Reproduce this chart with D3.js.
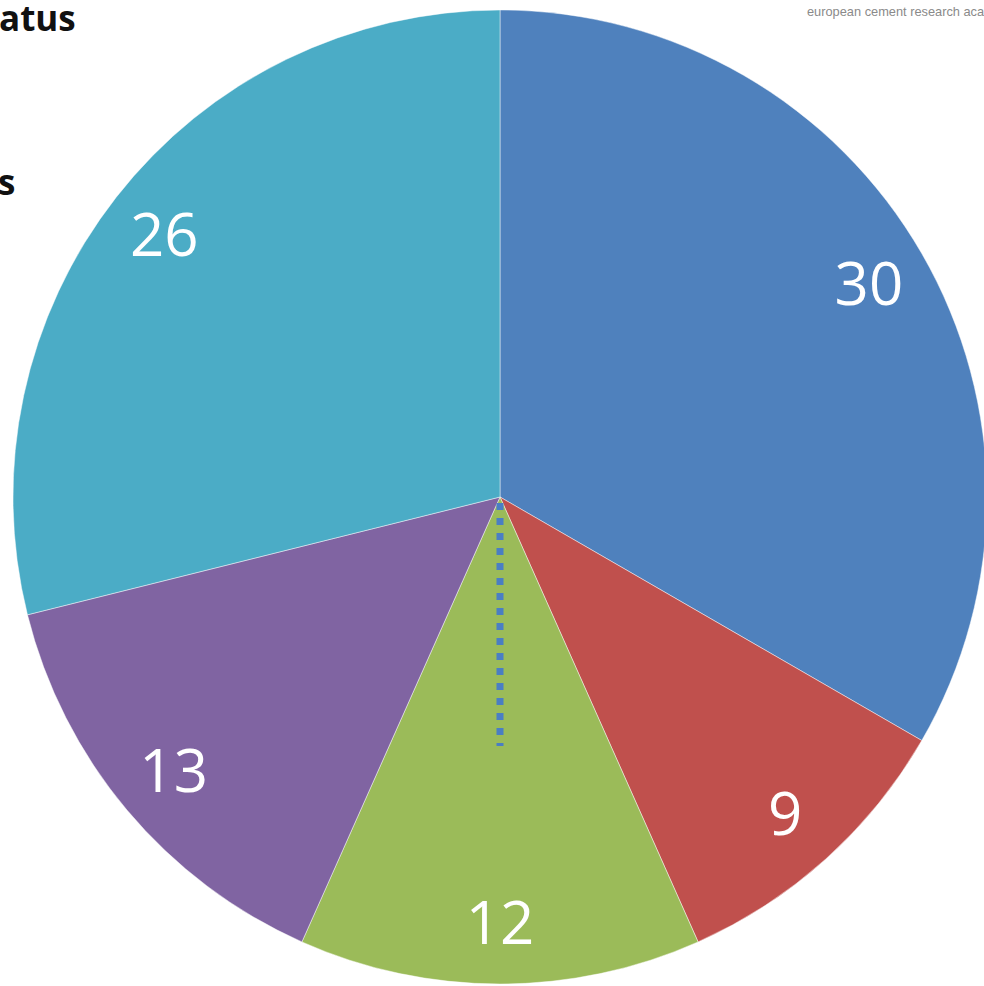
<!DOCTYPE html>
<html><head><meta charset="utf-8">
<script src="https://cdn.jsdelivr.net/npm/d3@7"></script>
<style>html,body{margin:0;padding:0;background:#fff;overflow:hidden}</style>
</head><body>
<svg id="c" width="984" height="986"></svg>
<script>
const categories = ["A", "B", "C", "D", "E"];
const values = [30, 9, 12, 13, 26];
const colors = ["#4F81BD", "#C0504D", "#9BBB59", "#8064A2", "#4BACC6"];

const svg = d3.select("#c");
const cx = 500, cy = 497, r = 487;
const g = svg.append("g").attr("transform", `translate(${cx},${cy})`);
const data = categories.map((c, i) => ({cat: c, value: values[i], color: colors[i]}));
const pie = d3.pie().value(d => d.value).sort(null);
const arcs = pie(data);
const arc = d3.arc().innerRadius(0).outerRadius(r);
const labelArc = d3.arc().innerRadius(426).outerRadius(426);

g.selectAll("path.slice").data(arcs).enter().append("path")
  .attr("class", "slice")
  .attr("d", arc)
  .attr("fill", d => d.data.color)
  .attr("stroke", "rgba(255,255,255,0.45)")
  .attr("stroke-width", 1);

g.selectAll("text.lbl").data(arcs).enter().append("text")
  .attr("class", "lbl")
  .attr("transform", d => `translate(${labelArc.centroid(d)})`)
  .attr("text-anchor", "middle")
  .attr("dy", "0.35em")
  .attr("fill", "#fff")
  .style("font-family", "'Open Sans', sans-serif")
  .style("font-size", "60px")
  .text(d => d.data.value);

// dotted marker line
g.append("line")
  .attr("x1", 0).attr("y1", 6).attr("x2", 0).attr("y2", 249)
  .attr("stroke", "#4A7EC4").attr("stroke-width", 7)
  .attr("stroke-dasharray", "7,8");

// cropped title fragments
svg.append("text").attr("x", -1).attr("y", 31)
  .style("font-family", "'Open Sans', sans-serif").style("font-weight", "bold")
  .style("font-size", "35px").attr("fill", "#111").text("atus");
svg.append("text").attr("x", -2).attr("y", 195)
  .style("font-family", "'Open Sans', sans-serif").style("font-weight", "bold")
  .style("font-size", "35px").attr("fill", "#111").text("s");
svg.append("text").attr("x", 807).attr("y", 16)
  .style("font-family", "'Liberation Sans', sans-serif")
  .style("font-size", "12.8px").attr("fill", "#8a8a8a").text("european cement research academy");
</script>
</body></html>
